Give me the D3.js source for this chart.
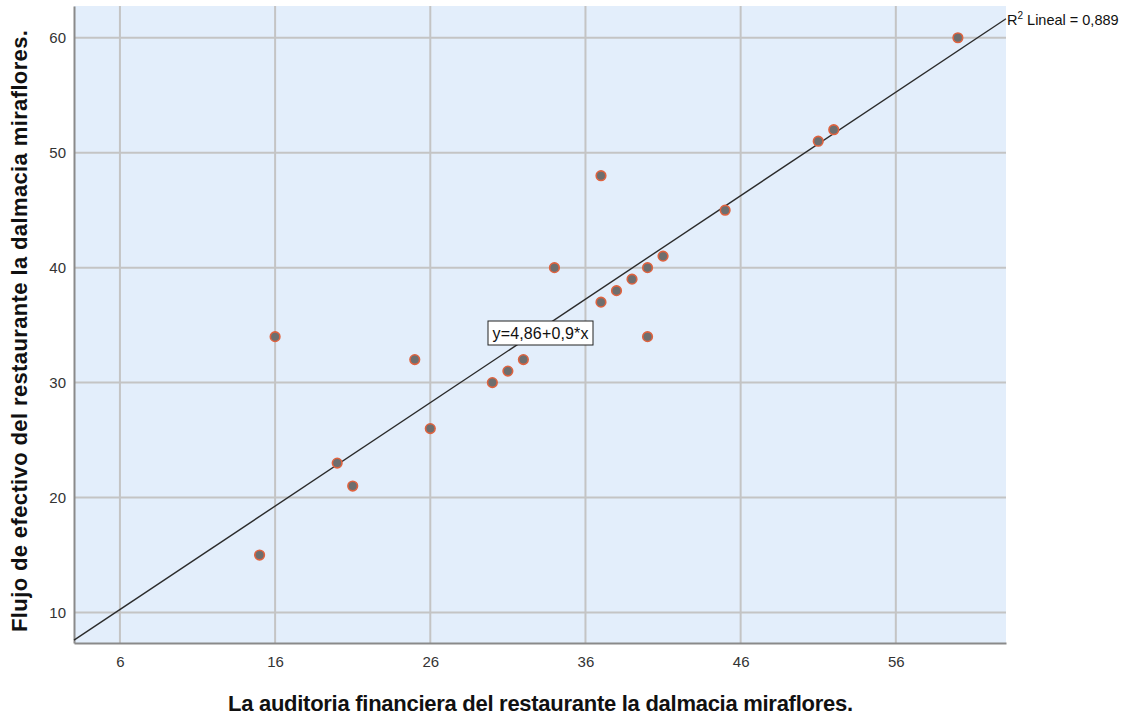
<!DOCTYPE html>
<html>
<head>
<meta charset="utf-8">
<script src="https://cdn.jsdelivr.net/npm/d3@7"></script>
<style>
  body { margin: 0; background: white; }
  text { font-family: "Liberation Sans", Arial, sans-serif; }
</style>
</head>
<body>
<script>
// data
const auditoria = [15, 16, 20, 21, 25, 26, 30, 31, 32, 34, 37, 37, 38, 39, 40, 40, 41, 45, 51, 52, 60]
const flujo     = [15, 34, 23, 21, 32, 26, 30, 31, 32, 40, 48, 37, 38, 39, 40, 34, 41, 45, 51, 52, 60]
const xTicks = [6, 16, 26, 36, 46, 56]
const yTicks = [10, 20, 30, 40, 50, 60]
const fit = {a: 4.86, b: 0.9}
const fitLabel = "y=4,86+0,9*x"
const r2Label = "0,889"
const xTitle = "La auditoria financiera del restaurante la dalmacia miraflores."
const yTitle = "Flujo de efectivo del restaurante la dalmacia miraflores."

const w = 1129
const h = 717
const pLeft = 74, pRight = 1006, pTop = 6, pBottom = 643

const svg = d3.select("body")
              .append("svg")
              .attr("width", w)
              .attr("height", h)

const xScale = d3.scaleLinear()
                 .domain([3.04, 63.1])
                 .range([pLeft, pRight])
const yScale = d3.scaleLinear()
                 .domain([7.35, 62.76])
                 .range([pBottom, pTop])

// plot background
svg.append("rect")
   .attr("x", pLeft)
   .attr("y", pTop)
   .attr("width", pRight - pLeft)
   .attr("height", pBottom - pTop)
   .attr("fill", "#e3eefb")

// grid
svg.append("g")
   .selectAll("line")
   .data(xTicks)
   .enter()
   .append("line")
   .attr("x1", (d) => xScale(d))
   .attr("x2", (d) => xScale(d))
   .attr("y1", pTop)
   .attr("y2", pBottom)
   .attr("stroke", "#c4c4c4")
   .attr("stroke-width", 2)

svg.append("g")
   .selectAll("line")
   .data(yTicks)
   .enter()
   .append("line")
   .attr("y1", (d) => yScale(d))
   .attr("y2", (d) => yScale(d))
   .attr("x1", pLeft)
   .attr("x2", pRight)
   .attr("stroke", "#c4c4c4")
   .attr("stroke-width", 2)

// axes
const xAxis = d3.axisBottom(xScale).tickValues(xTicks).tickSize(0).tickPadding(13)
const gx = svg.append("g")
   .attr("transform", "translate(0," + pBottom + ")")
   .call(xAxis)
gx.select(".domain").attr("stroke", "#8a8a8a").attr("stroke-width", 2)
gx.selectAll("text").attr("font-size", 15).attr("fill", "#333")

const yAxis = d3.axisLeft(yScale).tickValues(yTicks).tickSize(0).tickPadding(8)
const gy = svg.append("g")
   .attr("transform", "translate(" + pLeft + ",0)")
   .call(yAxis)
gy.select(".domain").attr("stroke", "#8a8a8a").attr("stroke-width", 2)
gy.selectAll("text").attr("font-size", 15).attr("fill", "#333")

// fit line across the whole plot
const x0 = xScale.domain()[0], x1 = xScale.domain()[1]
svg.append("line")
   .attr("x1", xScale(x0))
   .attr("y1", yScale(fit.a + fit.b * x0))
   .attr("x2", xScale(x1))
   .attr("y2", yScale(fit.a + fit.b * x1))
   .attr("stroke", "#2b2b2b")
   .attr("stroke-width", 1.4)

// points
svg.append("g")
   .selectAll("circle")
   .data(auditoria)
   .enter()
   .append("circle")
   .attr("cx", (d) => xScale(d))
   .attr("cy", (d, i) => yScale(flujo[i]))
   .attr("r", 4.8)
   .attr("fill", "#6e6e6e")
   .attr("stroke", "#e0623e")
   .attr("stroke-width", 1.6)

// equation box
const box = svg.append("g").attr("transform", "translate(488,321)")
box.append("rect")
   .attr("width", 105)
   .attr("height", 24)
   .attr("fill", "white")
   .attr("stroke", "#222")
   .attr("stroke-width", 1)
box.append("text")
   .attr("x", 52.5)
   .attr("y", 17.5)
   .attr("text-anchor", "middle")
   .attr("font-size", 16)
   .attr("textLength", 96)
   .attr("fill", "#111")
   .text(fitLabel)

// R2 label
const r2 = svg.append("text")
   .attr("x", pRight + 1)
   .attr("y", 25)
   .attr("font-size", 14.5)
   .attr("fill", "#111")
r2.append("tspan").text("R")
r2.append("tspan").attr("font-size", 10).attr("dy", -6).text("2")
r2.append("tspan").attr("dy", 6).text(" Lineal = " + r2Label)

// titles
svg.append("text")
   .attr("x", 540.5)
   .attr("y", 711)
   .attr("text-anchor", "middle")
   .attr("font-size", 22)
   .attr("textLength", 625)
   .attr("font-weight", "bold")
   .attr("fill", "#111")
   .text(xTitle)

svg.append("text")
   .attr("transform", "translate(27,331) rotate(-90)")
   .attr("text-anchor", "middle")
   .attr("font-size", 22)
   .attr("textLength", 602)
   .attr("font-weight", "bold")
   .attr("fill", "#111")
   .text(yTitle)
</script>
</body>
</html>
